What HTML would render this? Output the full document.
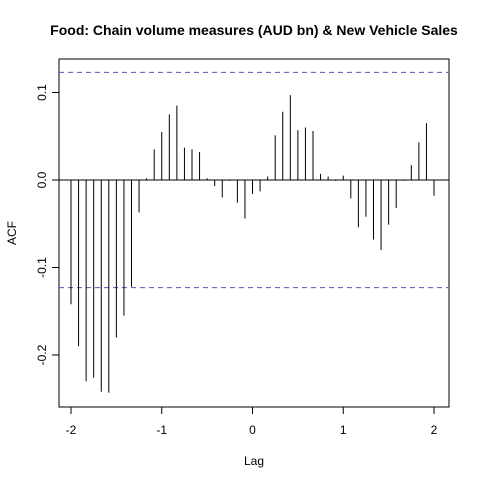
<!DOCTYPE html>
<html><head><meta charset="utf-8"><style>body{margin:0;background:#fff}svg text{font-family:"Liberation Sans",Arial,sans-serif}</style></head>
<body>
<svg id="c" width="480" height="480" xmlns="http://www.w3.org/2000/svg">
<text x="254" y="35" text-anchor="middle" font-size="14" font-weight="bold">Food: Chain volume measures (AUD bn) &amp; New Vehicle Sales</text>
<rect x="59" y="59" width="390" height="348" fill="none" stroke="#000"/>
<text x="254" y="465" text-anchor="middle" font-size="12">Lag</text>
<text transform="translate(16,233) rotate(-90)" text-anchor="middle" font-size="12">ACF</text>
<g id="g"></g>
</svg>
<script>
const lags=[];for(let i=-24;i<=24;i++)lags.push(i/12);
const acf=[-0.142,-0.19,-0.23,-0.226,-0.242,-0.243,-0.18,-0.155,-0.122,-0.037,0.002,0.035,0.055,0.075,0.085,0.037,0.035,0.032,0.002,-0.007,-0.02,-0.001,-0.026,-0.044,-0.016,-0.013,0.004,0.051,0.078,0.097,0.057,0.06,0.056,0.007,0.004,-0.001,0.005,-0.021,-0.054,-0.042,-0.068,-0.08,-0.051,-0.032,-0.001,0.017,0.043,0.065,-0.018];
const xTicks=[-2,-1,0,1,2];
const yTicks=[-0.2,-0.1,0.0,0.1];
const yTickLabels=["-0.2","-0.1","0.0","0.1"];
const ci=0.123;
const X=v=>252.5+v*90.75, Y=v=>180-v*875;
const g=document.getElementById('g'),NS='http://www.w3.org/2000/svg';
function mk(t,a){const e=document.createElementNS(NS,t);for(const k in a)e.setAttribute(k,a[k]);g.appendChild(e);return e;}
let e=mk('line',{x1:59,x2:449,y1:Y(0),y2:Y(0),stroke:'#000'});


[ci,-ci].forEach((c,i)=>{const l=mk('line',{x1:59,x2:449,y1:Y(c),y2:Y(c),stroke:'#5555bb','stroke-dasharray':'5,4'});

});
lags.forEach((k,i)=>{const l=mk('line',{x1:X(k),x2:X(k),y1:Y(0),y2:Y(acf[i]),stroke:'#000'});

});
xTicks.forEach(t=>{const l=mk('line',{x1:X(t),x2:X(t),y1:407,y2:414,stroke:'#000'});


const s=mk('text',{x:X(t),y:434,'text-anchor':'middle','font-size':12});s.textContent=t;

});
yTicks.forEach((t,i)=>{const l=mk('line',{x1:52,x2:59,y1:Y(t),y2:Y(t),stroke:'#000'});


const s=mk('text',{transform:`translate(46,${Y(t)}) rotate(-90)`,'text-anchor':'middle','font-size':12});s.textContent=yTickLabels[i];

});
</script>
</body></html>
